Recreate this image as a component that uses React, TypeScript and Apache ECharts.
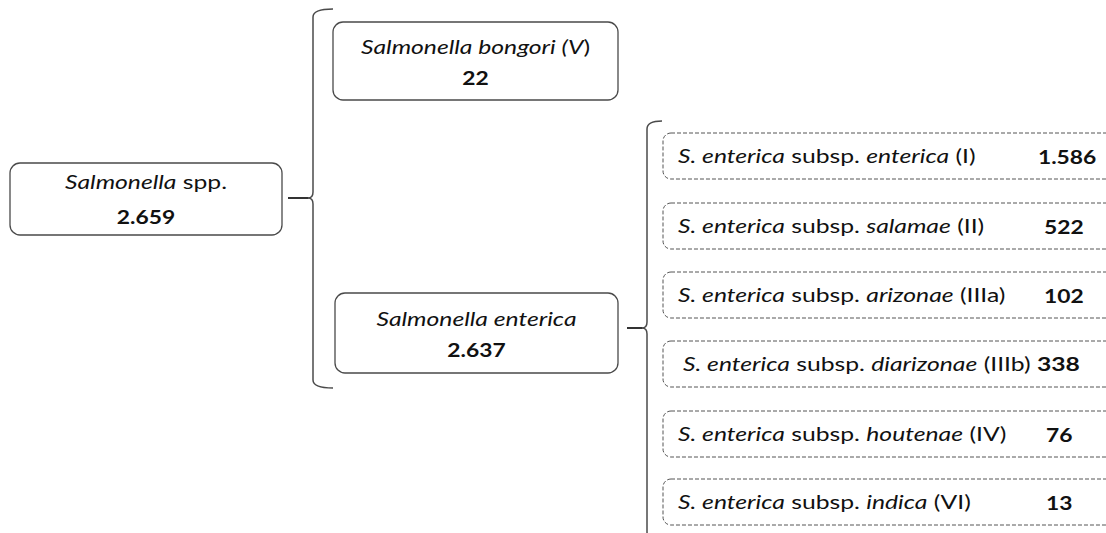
import React, { useEffect, useRef } from "react";
import * as echarts from "echarts";

// ---- data ----
const genusName = "Salmonella";
const genusSuffix = " spp.";
const genusCount = "2.659";

const speciesNames = ["Salmonella bongori", "Salmonella enterica"];
const speciesGroups = ["V", ""];
const speciesCounts = ["22", "2.637"];

const subspeciesPrefix = "S. enterica";
const subspeciesNames = ["enterica", "salamae", "arizonae", "diarizonae", "houtenae", "indica"];
const subspeciesGroups = ["I", "II", "IIIa", "IIIb", "IV", "VI"];
const subspeciesCounts = ["1.586", "522", "102", "338", "76", "13"];

// ---- layout ----
const FONT = "Lato, 'Open Sans', sans-serif";
const FS = 19;
const SX = 1.3; // horizontal stretch of label text
const SXN = 1.2; // horizontal stretch of numbers
const TEXT = "#111111";
const LINE = "#4a4a4a";

const rootBox = { x: 10, y: 163, w: 272, h: 72 };
const speciesBoxes = [
  { x: 333, y: 22, w: 285, h: 78 },
  { x: 335, y: 293, w: 283, h: 80 },
];
const rowCenters = [156, 226, 295, 364, 434, 502];
const rowLabelX = [678, 678, 678, 683, 678, 678];
const rowValueX = [1038, 1044, 1044, 0, 1046, 1046]; // 0 => directly after label
const rowBox = { x: 663, w: 470, h: 46 };

function brace(x: number, yTop: number, yMid: number, yBot: number, arm: number, tip: number, lw: number) {
  const st = { stroke: LINE, lineWidth: lw, fill: "none" };
  const r = 8;
  return [
    { type: "bezierCurve", shape: { x1: x, y1: yTop + r, cpx1: x, cpy1: yTop, x2: x + arm, y2: yTop }, style: st },
    { type: "line", shape: { x1: x, y1: yTop + r, x2: x, y2: yMid - 6 }, style: st },
    { type: "bezierCurve", shape: { x1: x, y1: yMid - 6, cpx1: x, cpy1: yMid, x2: x - tip, y2: yMid }, style: st },
    { type: "bezierCurve", shape: { x1: x, y1: yMid + 6, cpx1: x, cpy1: yMid, x2: x - tip, y2: yMid }, style: st },
    { type: "line", shape: { x1: x, y1: yMid + 6, x2: x, y2: yBot - r }, style: st },
    { type: "bezierCurve", shape: { x1: x, y1: yBot - r, cpx1: x, cpy1: yBot, x2: x + arm, y2: yBot }, style: st },
  ];
}

const rich = {
  i: { fontStyle: "italic", fontSize: FS, fontFamily: FONT, fill: TEXT },
  n: { fontStyle: "normal", fontSize: FS, fontFamily: FONT, fill: TEXT },
  b: { fontStyle: "normal", fontWeight: "bold", fontSize: FS, fontFamily: FONT, fill: TEXT },
};

function buildGraphics() {
  const els: any[] = [];
  els.push({
    type: "rect",
    shape: { x: rootBox.x, y: rootBox.y, width: rootBox.w, height: rootBox.h, r: 10 },
    style: { fill: "#fff", stroke: LINE, lineWidth: 1.3 },
  });
  const rcx = rootBox.x + rootBox.w / 2;
  const rcy = rootBox.y + rootBox.h / 2;
  els.push({
    type: "text", x: rcx, y: rcy - 17, scaleX: SX,
    style: { text: `{i|${genusName}}{n|${genusSuffix}}`, rich, align: "center", verticalAlign: "middle", fontSize: FS, fontFamily: FONT, fill: TEXT },
  });
  els.push({
    type: "text", x: rcx, y: rcy + 17, scaleX: SXN,
    style: { text: genusCount, align: "center", verticalAlign: "middle", fontSize: FS, fontWeight: "bold", fontFamily: FONT, fill: TEXT },
  });

  speciesBoxes.forEach((b, k) => {
    els.push({
      type: "rect",
      shape: { x: b.x, y: b.y, width: b.w, height: b.h, r: 10 },
      style: { fill: "#fff", stroke: LINE, lineWidth: 1.3 },
    });
    const cx = b.x + b.w / 2;
    const cy = b.y + b.h / 2;
    const label = speciesGroups[k]
      ? `{i|${speciesNames[k]} (${speciesGroups[k]}}{n|)}`
      : `{i|${speciesNames[k]}}`;
    els.push({
      type: "text", x: cx, y: cy - 14, scaleX: SX,
      style: { text: label, rich, align: "center", verticalAlign: "middle", fontSize: FS, fontFamily: FONT, fill: TEXT },
    });
    els.push({
      type: "text", x: cx, y: cy + 16, scaleX: SXN,
      style: { text: speciesCounts[k], align: "center", verticalAlign: "middle", fontSize: FS, fontWeight: "bold", fontFamily: FONT, fill: TEXT },
    });
  });

  subspeciesNames.forEach((name, k) => {
    const cy = rowCenters[k];
    els.push({
      type: "rect",
      shape: { x: rowBox.x, y: cy - rowBox.h / 2, width: rowBox.w, height: rowBox.h, r: 8 },
      style: { fill: "#fff", stroke: "#555", lineWidth: 1, lineDash: [4, 2] },
    });
    const inline = rowValueX[k] === 0;
    els.push({
      type: "text", x: rowLabelX[k], y: cy, scaleX: SX,
      style: {
        text:
          `{i|${subspeciesPrefix}}{n| subsp. }{i|${name}}{n| (${subspeciesGroups[k]})}` +
          (inline ? `{n| }{b|${subspeciesCounts[k]}}` : ""),
        rich, align: "left", verticalAlign: "middle", fontSize: FS, fontFamily: FONT, fill: TEXT,
      },
    });
    if (!inline) {
      els.push({
        type: "text", x: rowValueX[k], y: cy, scaleX: SXN,
        style: { text: subspeciesCounts[k], align: "left", verticalAlign: "middle", fontSize: FS, fontWeight: "bold", fontFamily: FONT, fill: TEXT },
      });
    }
  });

  els.push({ type: "line", shape: { x1: 288, y1: 198, x2: 308, y2: 198 }, style: { stroke: "#333", lineWidth: 2 } });
  els.push(...brace(313, 9, 198, 388, 20, 5, 1.5));
  els.push({ type: "line", shape: { x1: 627, y1: 328, x2: 642, y2: 328 }, style: { stroke: "#333", lineWidth: 2 } });
  els.push(...brace(647, 121, 328, 540, 15, 5, 1.5));
  return els;
}

export default function App() {
  const ref = useRef<HTMLDivElement>(null);
  useEffect(() => {
    if (!ref.current) return;
    const chart = echarts.init(ref.current, undefined, { renderer: "svg" });
    chart.setOption({
      animation: false,
      backgroundColor: "#ffffff",
      graphic: { elements: buildGraphics() },
    });
    return () => chart.dispose();
  }, []);
  return (
    <div
      ref={ref}
      style={{ position: "fixed", left: 0, top: 0, width: 1106, height: 533, background: "#fff" }}
    />
  );
}
